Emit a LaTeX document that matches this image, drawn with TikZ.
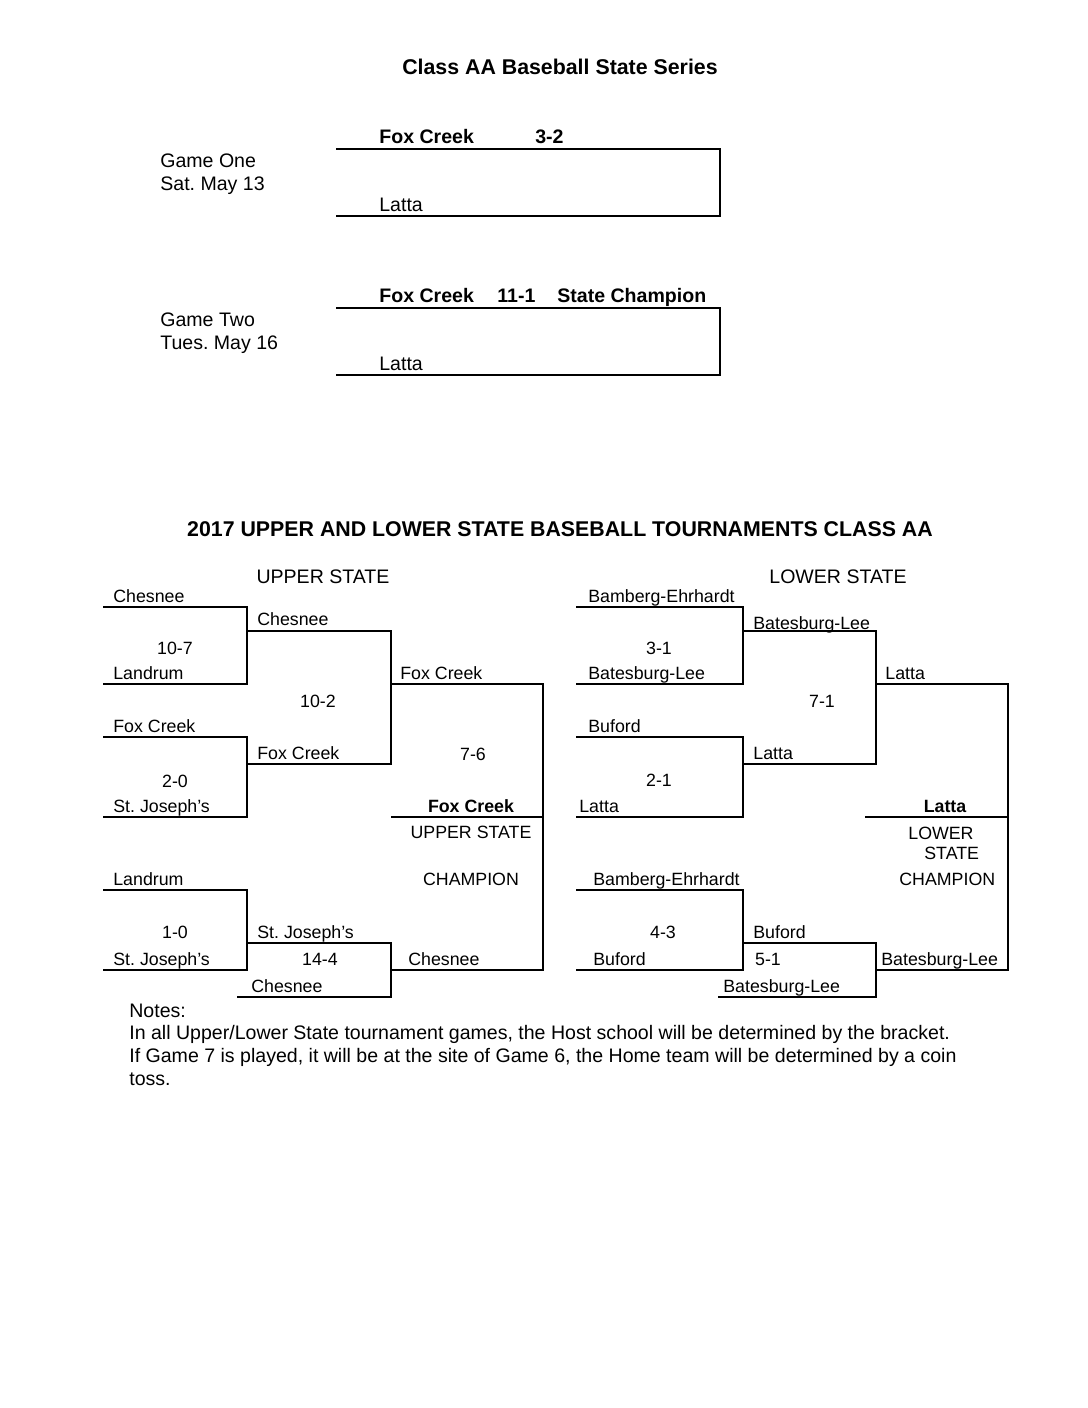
\documentclass[tikz,border=0pt]{standalone}
\usepackage{fontspec}
\setmainfont{Liberation Sans}
\frenchspacing
\begin{document}
\begin{tikzpicture}[x=0.5625pt,y=-0.5625pt,
  bline/.style={line width=0.8pt},
  lbl/.style={anchor=base west,inner sep=0pt,font=\fontsize{10}{12}\selectfont},
  lblc/.style={anchor=base,inner sep=0pt,font=\fontsize{10}{12}\selectfont},
  lblbc/.style={anchor=base,inner sep=0pt,font=\bfseries\fontsize{10}{12}\selectfont},
  big/.style={anchor=base west,inner sep=0pt,font=\fontsize{11}{13}\selectfont},
  bigb/.style={anchor=base west,inner sep=0pt,font=\bfseries\fontsize{11}{13}\selectfont},
  head/.style={anchor=base,inner sep=0pt,font=\fontsize{11}{13}\selectfont},
  title/.style={anchor=base,inner sep=0pt,font=\bfseries\fontsize{12}{14}\selectfont}]
\useasboundingbox[fill=white] (0,0) rectangle (1088,1408);

% ---------- State series ----------
\node[title] (t1) at (560,75) {Class AA Baseball State Series};
\draw[bline] (336,149) -- (720,149) -- (720,216) -- (336,216);
\node[bigb] (g1a) at (379,143) {Fox Creek};
\node[bigb] (g1s) at (535,143) {3-2};
\node[big] (g1b) at (379,211) {Latta};
\node[big] (g1l1) at (160,167) {Game One};
\node[big] (g1l2) at (160,190) {Sat. May 13};

\draw[bline] (336,308) -- (720,308) -- (720,375) -- (336,375);
\node[bigb] (g2a) at (379,302) {Fox Creek};
\node[bigb] (g2s) at (497,302) {11-1};
\node[bigb] (g2c) at (557,302) {State Champion};
\node[big] (g2b) at (379,370) {Latta};
\node[big] (g2l1) at (160,326) {Game Two};
\node[big] (g2l2) at (160,349) {Tues. May 16};

% ---------- Tournament ----------
\node[title] (t2) at (560,536) {2017 UPPER AND LOWER STATE BASEBALL TOURNAMENTS CLASS AA};
\node[head] (us) at (323,583) {UPPER STATE};
\node[head] (ls) at (838,583) {LOWER STATE};

% Upper state lines
\draw[bline] (103,607) -- (247,607) -- (247,684) -- (103,684);
\draw[bline] (103,737) -- (247,737) -- (247,817) -- (103,817);
\draw[bline] (247,631) -- (391,631) -- (391,764) -- (247,764);
\draw[bline] (391,684) -- (543,684) -- (543,970) -- (391,970);
\draw[bline] (391,817) -- (543,817);
\draw[bline] (103,890) -- (247,890) -- (247,970) -- (103,970);
\draw[bline] (247,943) -- (391,943) -- (391,997) -- (237,997);

% Upper state labels
\node[lbl] (u1) at (113,602) {Chesnee};
\node[lbl] (u2) at (113,679) {Landrum};
\node[lblc] (u12) at (175,654) {10-7};
\node[lbl] (u3) at (113,732) {Fox Creek};
\node[lbl] (u4) at (113,812) {St. Joseph’s};
\node[lblc] (u34) at (175,787) {2-0};
\node[lbl] (u5) at (113,885) {Landrum};
\node[lbl] (u6) at (113,965) {St. Joseph’s};
\node[lblc] (u56) at (175,938) {1-0};
\node[lbl] (v1) at (257,625) {Chesnee};
\node[lbl] (v2) at (257,759) {Fox Creek};
\node[lblc] (v12) at (318,707) {10-2};
\node[lbl] (v3) at (257,938) {St. Joseph’s};
\node[lbl] (v4) at (251,992) {Chesnee};
\node[lblc] (v34) at (320,965) {14-4};
\node[lbl] (w1) at (400,679) {Fox Creek};
\node[lbl] (w2) at (408,965) {Chesnee};
\node[lblc] (w12) at (473,760) {7-6};
\node[lblbc] (uc) at (471,812) {Fox Creek};
\node[lblc] (uc1) at (471,838) {UPPER STATE};
\node[lblc] (uc2) at (471,885) {CHAMPION};

% Lower state lines
\draw[bline] (576,607) -- (743,607) -- (743,684) -- (576,684);
\draw[bline] (576,737) -- (743,737) -- (743,817) -- (576,817);
\draw[bline] (743,631) -- (876,631) -- (876,764) -- (743,764);
\draw[bline] (876,684) -- (1008,684) -- (1008,970) -- (876,970);
\draw[bline] (865,817) -- (1008,817);
\draw[bline] (576,890) -- (743,890) -- (743,970) -- (576,970);
\draw[bline] (743,943) -- (876,943) -- (876,997) -- (718,997);

% Lower state labels
\node[lbl] (l1) at (588,602) {Bamberg-Ehrhardt};
\node[lbl] (l2) at (588,679) {Batesburg-Lee};
\node[lblc] (l12) at (659,654) {3-1};
\node[lbl] (l3) at (588,732) {Buford};
\node[lbl] (l4) at (579,812) {Latta};
\node[lblc] (l34) at (659,786) {2-1};
\node[lbl] (l5) at (593,885) {Bamberg-Ehrhardt};
\node[lbl] (l6) at (593,965) {Buford};
\node[lblc] (l56) at (663,938) {4-3};
\node[lbl] (m1) at (753,629) {Batesburg-Lee};
\node[lbl] (m2) at (753,759) {Latta};
\node[lblc] (m12) at (822,707) {7-1};
\node[lbl] (m3) at (753,938) {Buford};
\node[lbl] (m4) at (723,992) {Batesburg-Lee};
\node[lblc] (m34) at (768,965) {5-1};
\node[lbl] (n1) at (885,679) {Latta};
\node[lbl] (n2) at (881,965) {Batesburg-Lee};
\node[lblbc] (lc) at (945,812) {Latta};
\node[lbl] (lc1) at (908,839) {LOWER};
\node[lbl] (lc2) at (924,859) {STATE};
\node[lbl] (lc3) at (899,885) {CHAMPION};

% Notes
\node[big] (n0) at (129,1017) {Notes:};
\node[big] (nt1) at (129,1039) {In all Upper/Lower State tournament games, the Host school will be determined by the bracket.};
\node[big] (nt2) at (129,1062) {If Game 7 is played, it will be at the site of Game 6, the Home team will be determined by a coin};
\node[big] (nt3) at (129,1085) {toss.};
\end{tikzpicture}
\end{document}
